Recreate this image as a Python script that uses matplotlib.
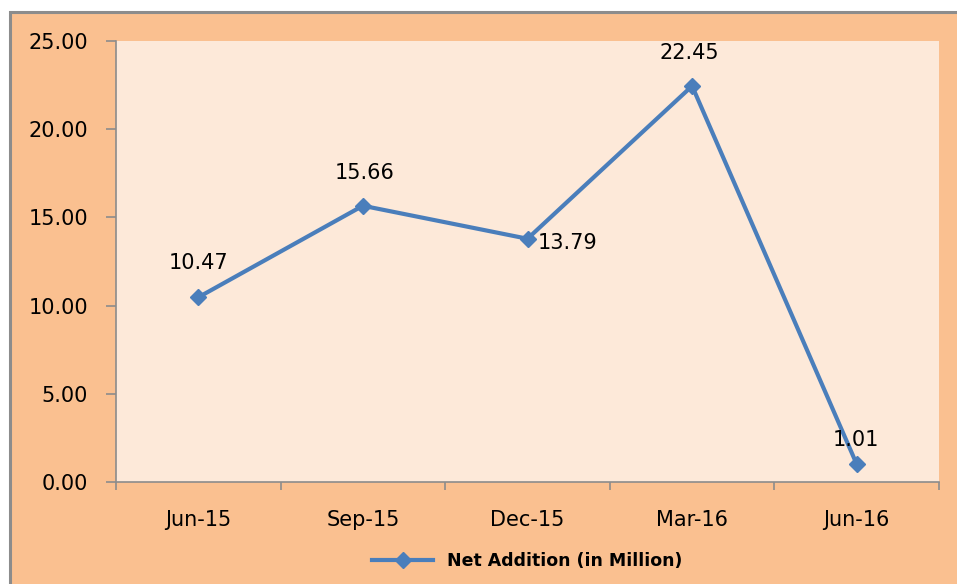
import matplotlib.pyplot as plt
import numpy as np
from matplotlib.patches import Rectangle

# data
quarters = ["Jun-15", "Sep-15", "Dec-15", "Mar-16", "Jun-16"]
net_add = [10.47, 15.66, 13.79, 22.45, 1.01]
series_name = "Net Addition (in Million)"

outer = "#FAC090"
inner = "#FDE9D9"
line_col = "#4A7EBB"
grey = "#8C8C8C"

fig = plt.figure(figsize=(9.57, 5.84), dpi=100, facecolor="white")
# peach panel with grey border on top/left (cut off at right/bottom)
fig.patches.append(Rectangle((9.5 / 957, -0.1), 1.2, 1 - 11.5 / 584 + 0.1,
                             transform=fig.transFigure, facecolor=outer,
                             edgecolor=grey, linewidth=2.2, zorder=-10))

ax = fig.add_axes([116 / 957, 1 - 482 / 584, (939 - 116) / 957, (482 - 41) / 584])
ax.set_facecolor(inner)

x = np.arange(len(quarters))
ax.plot(x, net_add, color=line_col, lw=3, marker="D", ms=8, label=series_name,
        zorder=3)

# data labels (pixel offsets)
offsets = [(0, 34), (2, 33), (40, -4), (-3, 33), (-1, 24)]
for xi, v, (dx, dy) in zip(x, net_add, offsets):
    ax.annotate(f"{v:.2f}", (xi, v), xytext=(dx * 0.72, dy * 0.72),
                textcoords="offset points", ha="center", va="center",
                fontsize=15, color="black", zorder=4)

ax.set_xlim(-0.5, len(quarters) - 0.5)
ax.set_ylim(0, 25)
ax.set_yticks(np.arange(0, 25.1, 5))
ax.set_yticklabels([f"{t:.2f}" for t in np.arange(0, 25.1, 5)])
ax.set_xticks(x)
ax.set_xticklabels(quarters)
ax.set_xticks(np.arange(-0.5, len(quarters)), minor=True)
ax.tick_params(axis="x", which="major", length=0, pad=20, labelsize=15)
ax.tick_params(axis="x", which="minor", length=6, color=grey, width=1.2)
ax.tick_params(axis="y", length=7, color=grey, width=1.2, pad=13, labelsize=15)

for s in ["top", "right"]:
    ax.spines[s].set_visible(False)
for s in ["left", "bottom"]:
    ax.spines[s].set_color(grey)
    ax.spines[s].set_linewidth(1.2)

leg = ax.legend(loc="center", bbox_to_anchor=(0.5, -0.18), frameon=False,
                prop={"size": 12.5, "weight": "semibold"}, handlelength=3.5,
                borderaxespad=0)

fig.savefig("out.png", dpi=100, facecolor=fig.get_facecolor())
